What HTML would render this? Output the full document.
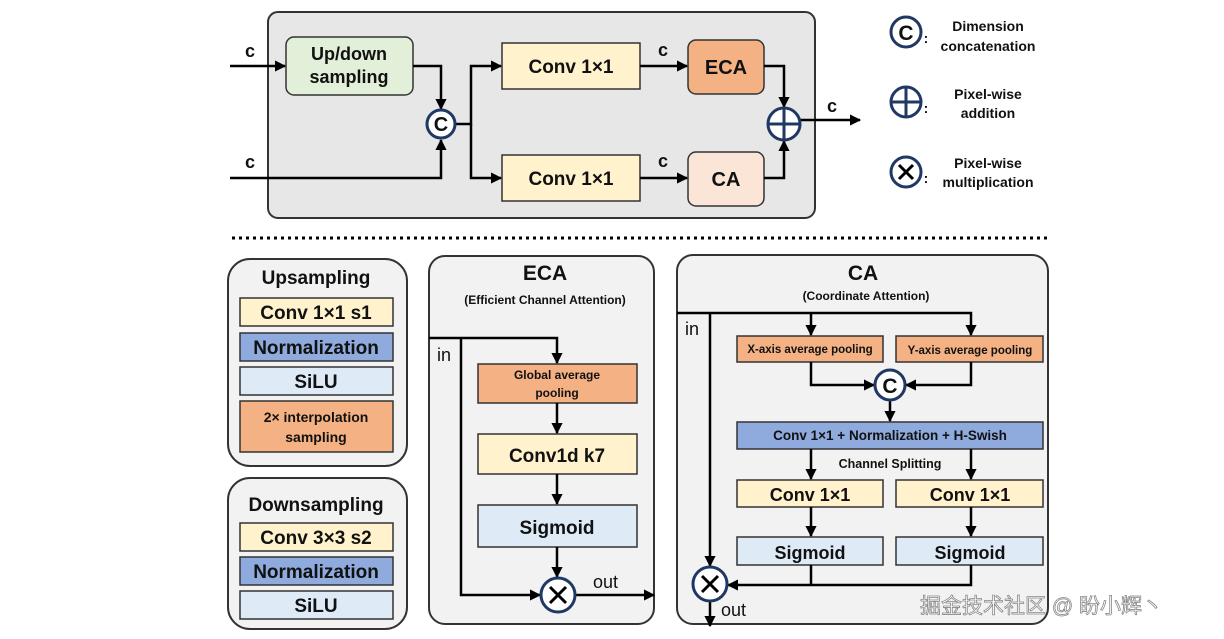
<!DOCTYPE html>
<html><head><meta charset="utf-8"><style>
html,body{margin:0;padding:0;background:#fff;}
svg{display:block;font-family:"Liberation Sans","Noto Sans CJK SC",sans-serif;}
text{font-weight:bold;fill:#111;}
</style></head><body>
<svg width="1224" height="639" viewBox="0 0 1224 639" xmlns="http://www.w3.org/2000/svg">
<defs>
<marker id="a" viewBox="0 0 10 10" refX="9" refY="5" markerWidth="4.5" markerHeight="4.5" orient="auto"><path d="M0,0 L10,5 L0,10 z" fill="#000"/></marker>
</defs>
<g stroke="#000" stroke-width="2.5" fill="none">
<!-- top -->
<rect x="268" y="12" width="547" height="206" rx="10" fill="#e7e7e7" stroke="#333" stroke-width="2"/>
</g>
<g stroke="#333" stroke-width="1.5">
<rect x="286" y="37" width="127" height="58" rx="8" fill="#e2efd9"/>
<rect x="502" y="43" width="138" height="46" fill="#fff2cc"/>
<rect x="502" y="155" width="138" height="46" fill="#fff2cc"/>
<rect x="688" y="40" width="76" height="54" rx="8" fill="#f4b183"/>
<rect x="688" y="152" width="76" height="54" rx="8" fill="#fbe5d6"/>
</g>
<g stroke="#000" stroke-width="2.5" fill="none">
<path d="M230,66 H285" marker-end="url(#a)"/>
<path d="M230,178 H441 V140" marker-end="url(#a)"/>
<path d="M413,66 H441 V109" marker-end="url(#a)"/>
<path d="M455,124 H471 V66 H501" marker-end="url(#a)"/>
<path d="M471,124 V178 H501" marker-end="url(#a)"/>
<path d="M640,66 H687" marker-end="url(#a)"/>
<path d="M640,178 H687" marker-end="url(#a)"/>
<path d="M764,66 H784 V107" marker-end="url(#a)"/>
<path d="M764,178 H784 V141" marker-end="url(#a)"/>
<path d="M800,120 H860" marker-end="url(#a)"/>
</g>
<circle cx="441" cy="124" r="14" fill="#fff" stroke="#1f3864" stroke-width="3"/>
<text x="441" y="131" font-size="20" text-anchor="middle" font-weight="normal">C</text>
<circle cx="784" cy="124" r="16" fill="#fff" stroke="#1f3864" stroke-width="3"/>
<path d="M768,124 H800 M784,108 V140" stroke="#1f3864" stroke-width="3"/>
<g font-size="18" text-anchor="middle">
<text x="250" y="57">c</text><text x="250" y="168">c</text>
<text x="663" y="56">c</text><text x="663" y="167">c</text><text x="832" y="112">c</text>
<text x="349" y="60" font-size="18">Up/down</text><text x="349" y="83" font-size="18">sampling</text>
<text x="571" y="73" font-weight="normal" font-size="19">Conv 1×1</text>
<text x="571" y="185" font-weight="normal" font-size="19">Conv 1×1</text>
<text x="726" y="74" font-weight="normal" font-size="20">ECA</text>
<text x="726" y="186" font-weight="normal" font-size="20">CA</text>
</g>
<!-- legend -->
<g stroke="#1f3864" stroke-width="3" fill="#fff">
<circle cx="906" cy="32" r="15"/><circle cx="906" cy="102" r="15"/><circle cx="906" cy="172" r="15"/>
</g>
<text x="906" y="40" font-size="21" text-anchor="middle" font-weight="normal">C</text>
<path d="M891,102 H921 M906,87 V117" stroke="#1f3864" stroke-width="3"/>
<path d="M899,165 L913,179 M913,165 L899,179" stroke="#000" stroke-width="3"/>
<g font-size="14" text-anchor="middle">
<text x="926" y="43">:</text><text x="926" y="113">:</text><text x="926" y="183">:</text>
<text x="988" y="31">Dimension</text><text x="988" y="51">concatenation</text>
<text x="988" y="99">Pixel-wise</text><text x="988" y="118">addition</text>
<text x="988" y="168">Pixel-wise</text><text x="988" y="187">multiplication</text>
</g>
<line x1="232" y1="238" x2="1048" y2="238" stroke="#000" stroke-width="3" stroke-dasharray="3,4"/>
<!-- up/down boxes -->
<g stroke="#333" stroke-width="2">
<rect x="228" y="259" width="179" height="207" rx="22" fill="#f2f2f2"/>
<rect x="228" y="478" width="179" height="151" rx="22" fill="#f2f2f2"/>
<rect x="429" y="256" width="225" height="368" rx="16" fill="#f2f2f2"/>
<rect x="677" y="255" width="371" height="369" rx="16" fill="#f2f2f2"/>
</g>
<g stroke="#333" stroke-width="1.5">
<rect x="240" y="298" width="153" height="28" fill="#fff2cc"/>
<rect x="240" y="333" width="153" height="28" fill="#8faadc"/>
<rect x="240" y="367" width="153" height="28" fill="#deebf7"/>
<rect x="240" y="401" width="153" height="51" fill="#f4b183"/>
<rect x="240" y="523" width="153" height="28" fill="#fff2cc"/>
<rect x="240" y="557" width="153" height="28" fill="#8faadc"/>
<rect x="240" y="591" width="153" height="28" fill="#deebf7"/>
<rect x="478" y="364" width="159" height="39" fill="#f4b183"/>
<rect x="478" y="434" width="159" height="40" fill="#fff2cc"/>
<rect x="478" y="505" width="159" height="42" fill="#deebf7"/>
<rect x="737" y="336" width="146" height="26" fill="#f4b183"/>
<rect x="896" y="336" width="147" height="26" fill="#f4b183"/>
<rect x="737" y="422" width="306" height="27" fill="#8faadc"/>
<rect x="737" y="480" width="146" height="27" fill="#fff2cc"/>
<rect x="896" y="480" width="147" height="27" fill="#fff2cc"/>
<rect x="737" y="537" width="146" height="28" fill="#deebf7"/>
<rect x="896" y="537" width="147" height="28" fill="#deebf7"/>
</g>
<g text-anchor="middle">
<text x="316" y="284" font-size="19">Upsampling</text>
<text x="316" y="319" font-size="19" font-weight="normal">Conv 1×1 s1</text>
<text x="316" y="354" font-size="19">Normalization</text>
<text x="316" y="388" font-size="19" font-weight="normal">SiLU</text>
<text x="316" y="422" font-size="14">2× interpolation</text>
<text x="316" y="442" font-size="14">sampling</text>
<text x="316" y="511" font-size="19">Downsampling</text>
<text x="316" y="544" font-size="19" font-weight="normal">Conv 3×3 s2</text>
<text x="316" y="578" font-size="19">Normalization</text>
<text x="316" y="612" font-size="19" font-weight="normal">SiLU</text>
<text x="545" y="280" font-size="21" font-weight="normal">ECA</text>
<text x="545" y="304" font-size="12">(Efficient Channel Attention)</text>
<text x="557" y="379" font-size="12">Global average</text>
<text x="557" y="397" font-size="12">pooling</text>
<text x="557" y="462" font-size="19" font-weight="normal">Conv1d k7</text>
<text x="557" y="534" font-size="19" font-weight="normal">Sigmoid</text>
<text x="863" y="280" font-size="21" font-weight="normal">CA</text>
<text x="866" y="300" font-size="12">(Coordinate Attention)</text>
<text x="810" y="353" font-size="11.5">X-axis average pooling</text>
<text x="970" y="354" font-size="11.5">Y-axis average pooling</text>
<text x="890" y="440" font-size="13.5">Conv 1×1 + Normalization + H-Swish</text>
<text x="890" y="468" font-size="12.5">Channel Splitting</text>
<text x="810" y="501" font-size="18" font-weight="normal">Conv 1×1</text>
<text x="970" y="501" font-size="18" font-weight="normal">Conv 1×1</text>
<text x="810" y="559" font-size="18" font-weight="normal">Sigmoid</text>
<text x="970" y="559" font-size="18" font-weight="normal">Sigmoid</text>
</g>
<g font-size="18" font-weight="normal">
<text x="437" y="361" style="font-weight:normal">in</text>
<text x="593" y="588" style="font-weight:normal">out</text>
<text x="685" y="335" style="font-weight:normal">in</text>
<text x="721" y="616" style="font-weight:normal">out</text>
</g>
<g stroke="#000" stroke-width="2.5" fill="none">
<path d="M429,338 H557 V363" marker-end="url(#a)"/>
<path d="M461,338 V595 H540" marker-end="url(#a)"/>
<path d="M557,403 V433" marker-end="url(#a)"/>
<path d="M557,474 V504" marker-end="url(#a)"/>
<path d="M557,547 V577" marker-end="url(#a)"/>
<path d="M575,595 H654" marker-end="url(#a)"/>
<path d="M677,313 H971 V335" marker-end="url(#a)"/>
<path d="M811,313 V335" marker-end="url(#a)"/>
<path d="M710,313 V566" marker-end="url(#a)"/>
<path d="M811,362 V385 H874" marker-end="url(#a)"/>
<path d="M971,362 V385 H906" marker-end="url(#a)"/>
<path d="M890,400 V421" marker-end="url(#a)"/>
<path d="M811,449 V479" marker-end="url(#a)"/>
<path d="M971,449 V479" marker-end="url(#a)"/>
<path d="M811,507 V536" marker-end="url(#a)"/>
<path d="M971,507 V536" marker-end="url(#a)"/>
<path d="M811,565 V585 M971,565 V585 H728" marker-end="url(#a)"/>
<path d="M710,601 V626" marker-end="url(#a)"/>
</g>
<g stroke="#1f3864" stroke-width="3" fill="#fff">
<circle cx="558" cy="595" r="17"/><circle cx="890" cy="385" r="15"/><circle cx="710" cy="584" r="17"/>
</g>
<path d="M550,587 L566,603 M566,587 L550,603 M702,576 L718,592 M718,576 L702,592" stroke="#000" stroke-width="3"/>
<text x="890" y="393" font-size="21" text-anchor="middle" font-weight="normal">C</text>
<text x="920" y="613" font-size="21" style="font-weight:normal;fill:#fff;stroke:#888;stroke-width:0.8">掘金技术社区 @ 盼小辉丶</text>
</svg>
</body></html>
